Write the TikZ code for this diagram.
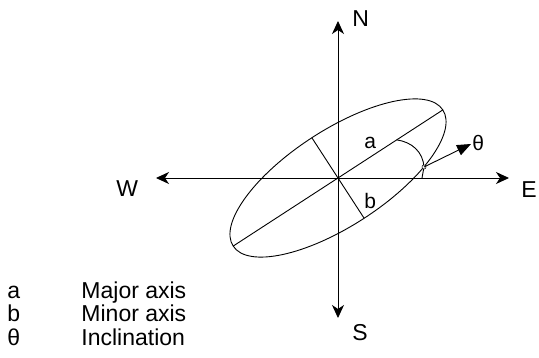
\documentclass[tikz,border=0pt]{standalone}
\usepackage{fontspec}
\setmainfont{Liberation Sans}
\usetikzlibrary{arrows.meta,calc}
\begin{document}
\begin{tikzpicture}[x=1pt,y=-1pt,
  line width=0.9pt,
  axisline/.style={-{Stealth[length=13pt,width=12pt,inset=4pt]}},
  lbl/.style={font=\fontsize{23}{26}\selectfont, anchor=base west, inner sep=0pt},
  small/.style={font=\fontsize{21}{24}\selectfont, anchor=base west, inner sep=0pt}]
\useasboundingbox (0,0) rectangle (539,358);
\coordinate (O) at (338,178);
\coordinate (Ntip) at (338,21);
\coordinate (Stip) at (338,318);
\coordinate (Etip) at (509,178);
\coordinate (Wtip) at (156,178);
\draw[axisline] (O) -- (Ntip);
\draw[axisline] (O) -- (Stip);
\draw[axisline] (O) -- (Etip);
\draw[axisline] (O) -- (Wtip);
% ellipse
\draw[rotate around={33:(O)}] (O) ellipse [x radius=125pt, y radius=48pt];
\coordinate (A1) at ($(O)+(33:125pt)$);
\coordinate (A2) at ($(O)+(213:125pt)$);
\coordinate (B1) at ($(O)+(123:48pt)$);
\coordinate (B2) at ($(O)+(303:48pt)$);
\draw (A2) -- (A1);
\draw (B1) -- (B2);
% angle arc
\coordinate (P1) at ($(O)+(33:70pt)$);
\coordinate (Q) at (424,167);
\coordinate (P2) at (422,178);
\draw (P1) .. controls (412,142) and (423,152) .. (Q) -- (P2);
\draw[line width=0.5pt, fill=white] (Q) circle (2pt);
\coordinate (T) at (471,144);
\draw[-{Triangle[length=14pt,width=11pt]}] (Q) -- (T);
% labels
\node[lbl] (nN) at (352,27) {N};
\node[lbl] (nS) at (352,341) {S};
\node[lbl] (nE) at (521,198) {E};
\node[lbl] (nW) at (116,197) {W};
\node[small] (na) at (364,149) {a};
\node[small] (nb) at (364,209) {b};
\node[small] (nt) at (472,151) {θ};
% legend
\node[lbl] (la) at (7,299) {a};
\node[lbl] (lb) at (7,322) {b};
\node[lbl] (lt) at (7,346) {θ};
\node[lbl] (ta) at (81,299) {Major axis};
\node[lbl] (tb) at (81,322) {Minor axis};
\node[lbl] (tt) at (81,346) {Inclination};
\end{tikzpicture}
\end{document}
